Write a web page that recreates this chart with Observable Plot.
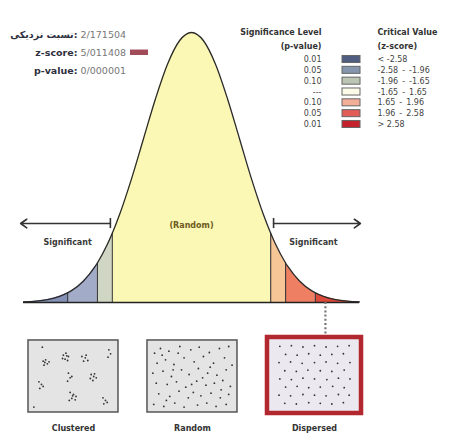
<!DOCTYPE html>
<html><head><meta charset="utf-8">
<script src="https://cdn.jsdelivr.net/npm/d3@7"></script>
<script src="https://cdn.jsdelivr.net/npm/@observablehq/plot@0.6"></script>
<style>body{margin:0;background:#fff}#chart svg{display:block}</style>
</head><body><div id="chart"></div>
<script>
// ---- data ----
const zValues = [-3.5,-3.25,-3,-2.75,-2.58,-2.5,-2.25,-2,-1.96,-1.75,-1.65,-1.5,-1.25,-1,-0.75,-0.5,-0.25,0,
                 0.25,0.5,0.75,1,1.25,1.5,1.65,1.75,1.96,2,2.25,2.5,2.58,2.75,3,3.25,3.5];
const densityValues = [0.0009,0.0020,0.0044,0.0091,0.0143,0.0175,0.0317,0.0540,0.0584,0.0863,0.1023,0.1295,0.1826,0.2420,0.3011,0.3521,0.3867,0.3989,
                 0.3867,0.3521,0.3011,0.2420,0.1826,0.1295,0.1023,0.0863,0.0584,0.0540,0.0317,0.0175,0.0143,0.0091,0.0044,0.0020,0.0009];
const zoneBreaks = [-3.5,-2.58,-1.96,-1.65,1.65,1.96,2.58,3.5];
const zoneNames = ["< -2.58","-2.58\u2002-\u2002-1.96","-1.96\u2002-\u2002-1.65","-1.65\u2002-\u20021.65","1.65\u2002-\u20021.96","1.96\u2002-\u20022.58","> 2.58"];
const pLevels = ["0.01","0.05","0.10","---","0.10","0.05","0.01"];
const legendHeaders = ["Significance Level","(p-value)","Critical Value","(z-score)"];
const statLabels = ["نسبت نزدیکی:","z-score:","p-value:"];
const statValues = ["2/171504","5/011408","0/000001"];
const patternNames = ["Clustered","Random","Dispersed"];
const significantLabel = "Significant";
const randomLabel = "(Random)";
const observedZ = 2.79; // marker drawn at the right tail
const clusteredDots = [[.14,.27],[.17,.25],[.19,.31],[.15,.33],[.21,.28],[.16,.29],
  [.38,.18],[.41,.15],[.44,.20],[.40,.24],[.43,.26],[.37,.23],[.42,.19],
  [.60,.20],[.64,.22],[.67,.26],[.62,.27],[.65,.18],
  [.92,.10],[.94,.16],[.91,.21],
  [.44,.45],[.46,.52],[.43,.57],[.48,.50],
  [.71,.47],[.75,.46],[.77,.52],[.73,.56],[.70,.53],[.74,.50],
  [.09,.58],[.12,.62],[.10,.68],[.14,.65],
  [.46,.74],[.50,.77],[.48,.83],[.52,.85],[.45,.86],[.53,.80],[.49,.79],
  [.85,.82],[.88,.86],[.86,.91],[.90,.89],
  [.13,.06],[.03,.96]];
const randomDots = [[.05,.15],[.12,.08],[.22,.12],[.35,.05],[.48,.10],[.58,.06],[.70,.14],[.82,.08],[.93,.05],
  [.08,.30],[.18,.25],[.28,.32],[.40,.22],[.52,.28],[.63,.20],[.75,.30],[.88,.22],[.97,.33],
  [.03,.45],[.15,.42],[.25,.50],[.37,.40],[.46,.47],[.57,.38],[.68,.45],[.79,.48],[.90,.40],
  [.07,.60],[.20,.62],[.31,.58],[.42,.66],[.55,.57],[.66,.63],[.76,.60],[.86,.56],[.95,.65],
  [.10,.76],[.23,.80],[.34,.72],[.45,.82],[.51,.74],[.60,.79],[.72,.75],[.83,.82],[.93,.77],
  [.04,.92],[.16,.95],[.29,.90],[.40,.96],[.56,.93],[.67,.90],[.78,.95],[.90,.92],
  [.33,.15],[.62,.52],[.14,.18],[.27,.40],[.49,.62],[.71,.36],[.84,.70],[.19,.86]];
const dispersedDots = [[.08,.07],[.22,.06],[.36,.08],[.50,.06],[.64,.08],[.78,.07],[.92,.06],
  [.15,.19],[.29,.20],[.43,.18],[.57,.20],[.71,.19],[.85,.18],
  [.07,.31],[.21,.30],[.35,.32],[.50,.31],[.64,.30],[.78,.32],[.93,.31],
  [.14,.43],[.28,.44],[.42,.42],[.57,.43],[.71,.44],[.86,.42],
  [.08,.55],[.22,.56],[.36,.54],[.50,.55],[.65,.56],[.79,.54],[.93,.55],
  [.15,.67],[.29,.66],[.43,.68],[.57,.67],[.72,.66],[.86,.68],
  [.07,.79],[.21,.80],[.36,.78],[.50,.79],[.64,.80],[.79,.78],[.92,.79],
  [.14,.91],[.28,.92],[.43,.90],[.57,.91],[.71,.92],[.85,.90]];

// ---- styles ----
const curveColors = ["#8590b6","#a2acc9","#d0d6c4","#fbf7b4","#f7c696","#ee7f62","#dd4a3a"];
const swatchColors = ["#4f5d80","#8595ad","#bcc4b4","#fbfbe8","#f2ae96","#e25d58","#c4232d"];
const font = "DejaVu Sans, Verdana, sans-serif";

// ---- layout (in chart units: x = z-score, y = density) ----
const L = {
  boxes: [ {x1:-3.396,x2:-1.521,y1:-0.1625,y2:-0.0561},
           {x1:-0.917,x2:0.958,y1:-0.1625,y2:-0.0561},
           {x1:1.583,x2:3.542,y1:-0.164,y2:-0.0517} ],
  labelY: -0.186,
  arrowY: 0.1167, sigY: 0.0886, randY: 0.1138,
  statX: -2.375, statValX: -2.3125, statY: [0.3959,0.3693,0.3427],
  swatchStat: {x1:-1.271,x2:-0.896,y1:0.3649,y2:0.3730},
  legValX: 2.708, legSwX1: 3.146, legSwX2: 3.521, legCritX: 3.875,
  legHeadY: [0.3989,0.3782], legRowY0: 0.359, legRowStep: 0.0160, legSwH: 0.0052
};

const curve = zValues.map((z,i)=>({z, d: densityValues[i]}));
const zones = zoneNames.map((name,i)=>curve.filter(p=>p.z>=zoneBreaks[i]-1e-9 && p.z<=zoneBreaks[i+1]+1e-9));
const boundaryRules = curve.filter(p=>zoneBreaks.slice(1,-1).includes(p.z));
const legendRows = zoneNames.map((name,i)=>({name, p:pLevels[i], y:L.legRowY0 - i*L.legRowStep}));
const boxes = patternNames.map((name,i)=>({name, ...L.boxes[i]}));
const dotSets = [clusteredDots, randomDots, dispersedDots];
const dots = dotSets.flatMap((set,i)=>{
  const b = L.boxes[i], inset = i===2 ? 0.12 : 0.06, insetY = i===2 ? 0.006 : 0.004;
  return set.map(([u,v])=>({x: b.x1+inset+u*(b.x2-b.x1-2*inset), y: b.y2-insetY-v*(b.y2-b.y1-2*insetY)}));
});

const chart = Plot.plot({
  width: 457, height: 434,
  margin: 0,
  x: {domain:[-3.5,3.5], range:[23,359], axis:null},
  y: {domain:[0,0.3989], range:[302,32], axis:null},
  color: {domain: zoneNames, range: swatchColors},
  style: {fontFamily: font, background: "white", overflow: "hidden"},
  marks: [
    // curve zones
    ...zones.map((pts,i)=>Plot.areaY(pts, {x:"z", y:"d", fill: curveColors[i], curve:"monotone-x"})),
    Plot.ruleX(boundaryRules, {x:"z", y1:0, y2:"d", stroke:"#3a3a3a", strokeWidth:1.1}),
    Plot.line(curve, {x:"z", y:"d", stroke:"#2a2a2a", strokeWidth:1.3, curve:"monotone-x"}),
    Plot.ruleY([0], {x1:-3.5, x2:3.5, stroke:"#222", strokeWidth:1.6}),
    // significant arrows
    Plot.arrow([{a:-1.69,b:-3.56},{a:1.71,b:3.52}], {x1:"a", x2:"b", y1:L.arrowY, y2:L.arrowY, stroke:"#333", strokeWidth:1.6, headLength:7, headAngle:70}),
    Plot.ruleX([-1.69,1.71], {y1:L.arrowY-0.0075, y2:L.arrowY+0.0075, stroke:"#333", strokeWidth:1.6}),
    Plot.text([significantLabel, significantLabel], {x:[-2.58,2.54], y:L.sigY, text:d=>d, fontSize:8, fontWeight:"bold", fill:"#3a3a3a"}),
    Plot.text([randomLabel], {x:0, y:L.randY, text:d=>d, fontSize:8, fontWeight:"bold", fill:"#6d5b22"}),
    // connector to dispersed box
    Plot.ruleX([observedZ], {y1:0, y2:L.boxes[2].y2, stroke:"#777", strokeWidth:2.2, strokeDasharray:"2,2.2"}),
    // pattern boxes
    Plot.rect(boxes.slice(0,2), {x1:"x1", x2:"x2", y1:"y1", y2:"y2", fill:"#e4e4e4", stroke:"#555", strokeWidth:1.5}),
    Plot.rect(boxes.slice(2), {x1:"x1", x2:"x2", y1:"y1", y2:"y2", fill:"#ebe8ef", stroke:"#b3282e", strokeWidth:4.5}),
    Plot.dot(dots, {x:"x", y:"y", r:0.9, fill:"#333", stroke:null}),
    Plot.text(boxes, {x:d=>(d.x1+d.x2)/2, y:L.labelY, text:"name", fontSize:8, fontWeight:"bold", fill:"#333"}),
    // stats text top-left
    Plot.text(statLabels, {x:L.statX, y:L.statY, text:d=>d, textAnchor:"end", fontSize:9.5, fontWeight:"bold", fill:"#2e3040"}),
    Plot.text(statValues, {x:L.statValX, y:L.statY, text:d=>d, textAnchor:"start", fontSize:9.5, fill:"#777"}),
    Plot.rect([L.swatchStat], {x1:"x1", x2:"x2", y1:"y1", y2:"y2", fill:"#a24c5a"}),
    // legend
    Plot.text(legendHeaders.slice(0,2), {x:L.legValX, y:L.legHeadY, text:d=>d, textAnchor:"end", fontSize:8, fontWeight:"bold", fill:"#333"}),
    Plot.text(legendHeaders.slice(2), {x:L.legCritX, y:L.legHeadY, text:d=>d, textAnchor:"start", fontSize:8, fontWeight:"bold", fill:"#333"}),
    Plot.text(legendRows, {x:L.legValX, y:"y", text:"p", textAnchor:"end", fontSize:8, fill:"#444"}),
    Plot.rect(legendRows, {x1:L.legSwX1, x2:L.legSwX2, y1:d=>d.y-L.legSwH, y2:d=>d.y+L.legSwH, fill:"name", stroke:"#666", strokeWidth:1}),
    Plot.text(legendRows, {x:L.legCritX, y:"y", text:"name", textAnchor:"start", fontSize:8, fill:"#444"})
  ]
});
document.getElementById("chart").append(chart);
</script>
</body></html>
